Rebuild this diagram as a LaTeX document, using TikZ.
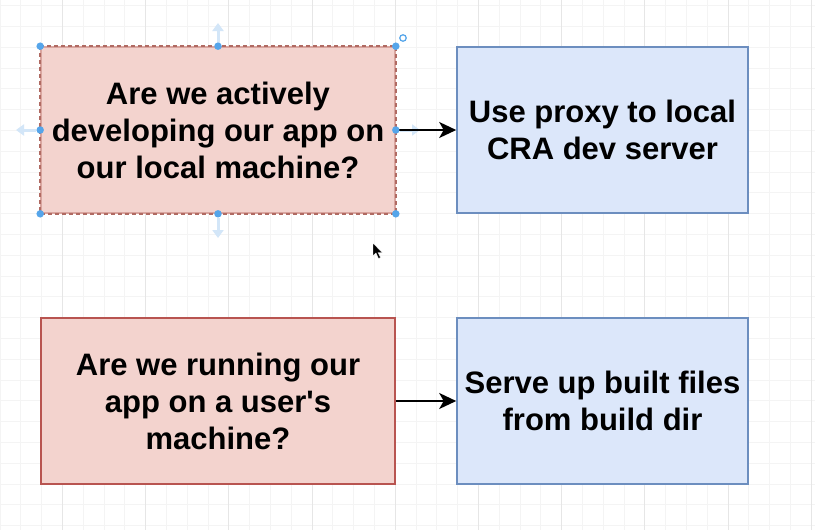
\documentclass[tikz,border=0pt]{standalone}
\usepackage{fontspec}
\setmainfont{Liberation Sans}
\usetikzlibrary{arrows.meta}
\definecolor{redfill}{HTML}{F3D3CE}
\definecolor{redline}{HTML}{B06A62}
\definecolor{redlight}{HTML}{D9A59F}
\definecolor{redsolid}{HTML}{B85450}
\definecolor{bluefill}{HTML}{DCE7FA}
\definecolor{blueline}{HTML}{6C8EBF}
\definecolor{gridminor}{HTML}{F4F4F4}
\definecolor{gridmajor}{HTML}{E6E6E6}
\definecolor{handle}{HTML}{55A5EA}
\definecolor{hint}{HTML}{D3E6F8}
\tikzset{
  box/.style={draw, line width=1.6pt, inner sep=0pt, align=center,
    font=\bfseries\fontsize{31}{37}\selectfont},
  qbox/.style={box, draw=redsolid, fill=redfill, minimum width=354pt, minimum height=166pt},
  abox/.style={box, draw=blueline, fill=bluefill, minimum width=291pt, minimum height=166pt},
  link/.style={line width=1.8pt, -{Stealth[length=17pt,width=16pt,inset=4.5pt]}},
  handledot/.style={circle, fill=handle, inner sep=0pt, minimum size=7.5pt},
  hintarrow/.style={hint, line width=3pt, -{Triangle[length=8pt,width=11pt]}},
}
\begin{document}
\begin{tikzpicture}[x=1pt,y=-1pt]
\useasboundingbox (0,0) rectangle (815,530);
\fill[white] (0,0) rectangle (815,530);
% grid
\foreach \k in {0,...,39} {
  \draw[gridminor, line width=0.8pt] ({20.8*\k},0) -- ({20.8*\k},530);
}
\foreach \k in {0,...,25} {
  \draw[gridminor, line width=0.8pt] (0,{5.6+20.8*\k}) -- (815,{5.6+20.8*\k});
}
\foreach \k in {0,...,9} {
  \draw[gridmajor, line width=0.8pt] ({62.4+83.2*\k},0) -- ({62.4+83.2*\k},530);
}
% boxes
\node[qbox, draw=redlight] (q1) at (218,130) {\raisebox{-2pt}{\parbox{354pt}{\centering Are we actively\\developing our app on\\our local machine?}}};
\draw[redline, line width=1.6pt, dash pattern=on 4pt off 3pt] (q1.north west) rectangle (q1.south east);
\node[abox] (a1) at (602.5,130) {Use proxy to local\\CRA dev server};
\node[qbox] (q2) at (218,401) {Are we running our\\app on a user\textquotesingle s\\machine?};
\node[abox] (a2) at (602.5,401) {Serve up built files\\from build dir};
% selection hints
\coordinate (upA) at (218,43);
\coordinate (upB) at (218,23);
\coordinate (dnA) at (218,218);
\coordinate (dnB) at (218,238);
\coordinate (ltA) at (36,130);
\coordinate (ltB) at (16,130);
\coordinate (rtA) at (400,130);
\coordinate (rtB) at (420,130);
\draw[hintarrow] (upA) -- (upB);
\draw[hintarrow] (dnA) -- (dnB);
\draw[hintarrow] (ltA) -- (ltB);
\draw[hintarrow] (rtA) -- (rtB);
% connectors
\draw[link] (q1.east) -- (a1.west);
\draw[link] (q2.east) -- (a2.west);
% handles
\foreach \a in {north west,north,north east,west,east,south west,south,south east} {
  \node[handledot] at (q1.\a) {};
}
\node[circle, draw=handle, line width=1.2pt, inner sep=0pt, minimum size=6.5pt] (rot) at (403,38) {};
% cursor
\fill[black, draw=white, line width=0.4pt] (373,243) -- (373,256) -- (376,253) -- (378.5,258.5) -- (380.5,257.5) -- (378,252.5) -- (382,252.5) -- cycle;
\end{tikzpicture}
\end{document}
